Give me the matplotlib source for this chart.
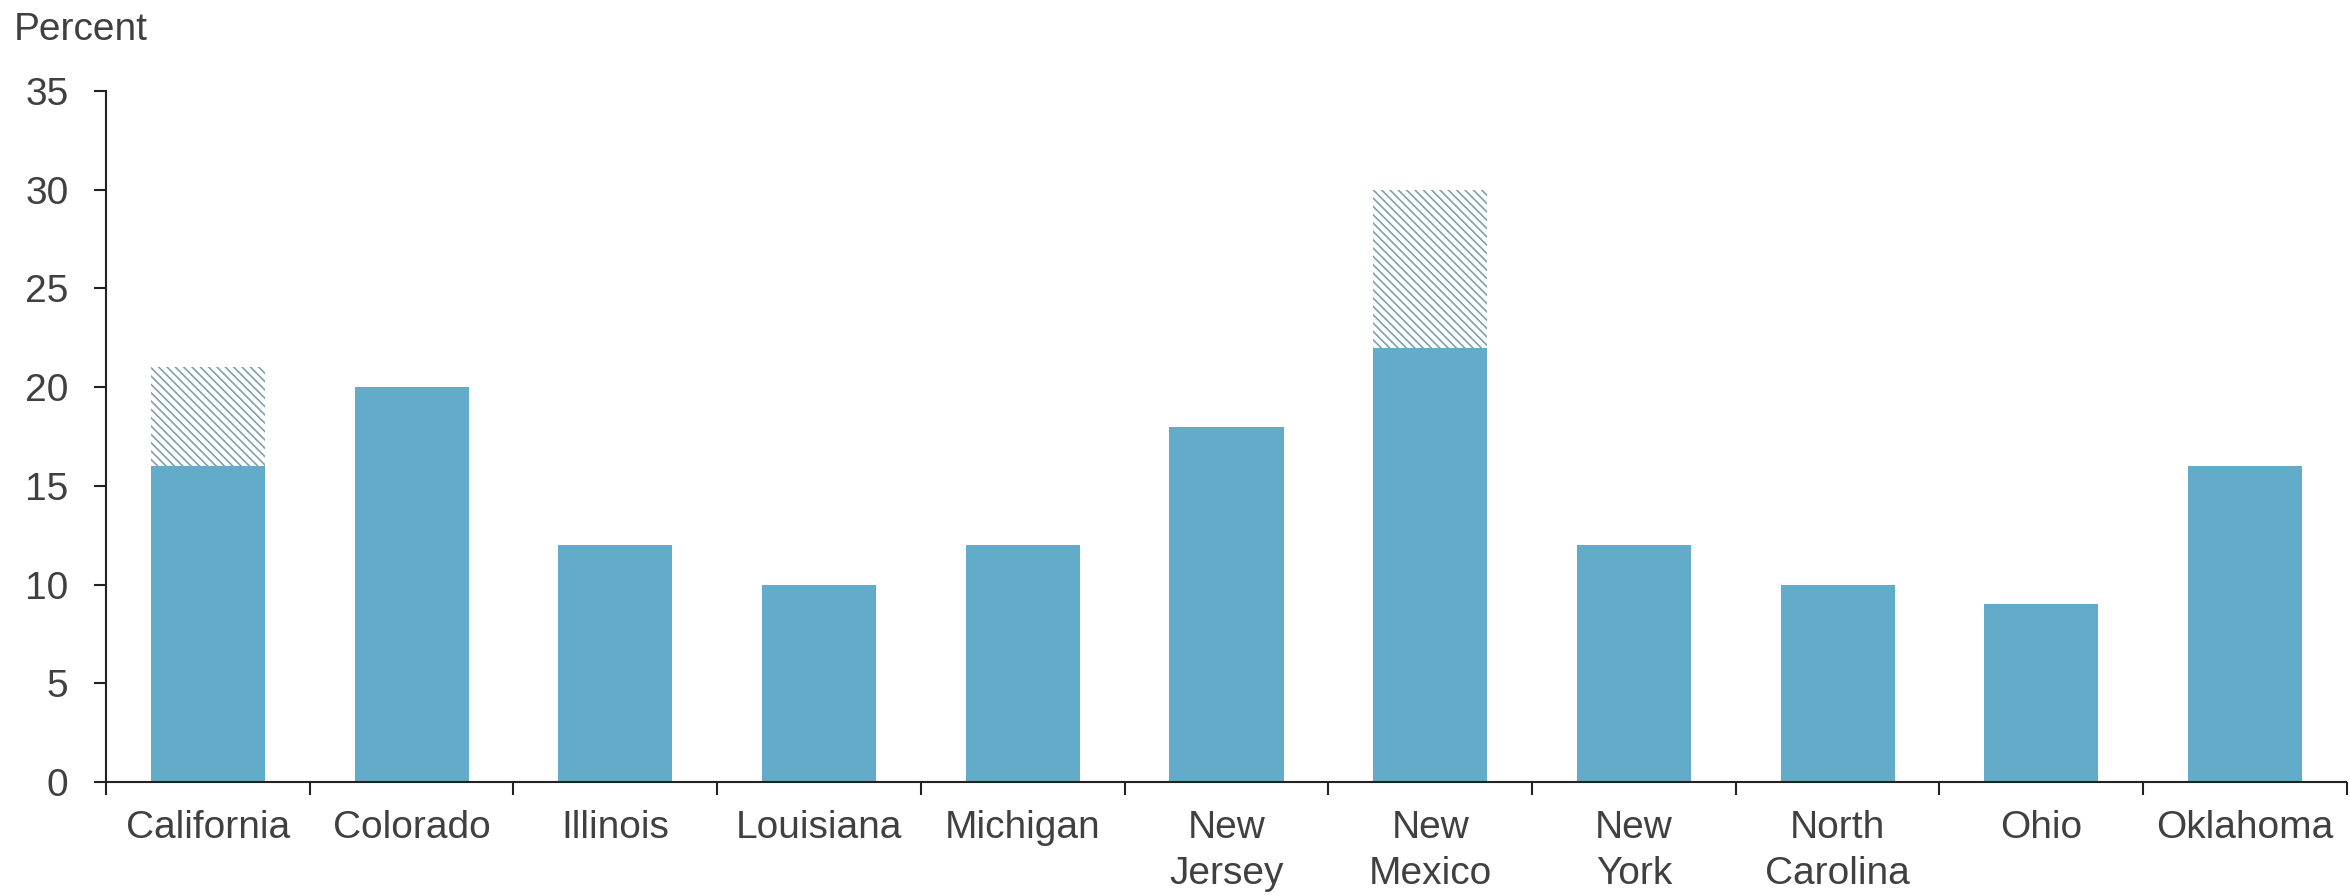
import numpy as np
import matplotlib.pyplot as plt

# share of households, base value plus additional (hatched) range
states = ["California", "Colorado", "Illinois", "Louisiana", "Michigan",
          "New\nJersey", "New\nMexico", "New\nYork", "North\nCarolina",
          "Ohio", "Oklahoma"]
base = [16, 20, 12, 10, 12, 18, 22, 12, 10, 9, 16]
extra = [5, 0, 0, 0, 0, 0, 8, 0, 0, 0, 0]

bar_color = "#62abc9"
hatch_color = "#7f9fae"
text_color = "#404040"

plt.rcParams["font.family"] = ["Liberation Sans", "DejaVu Sans"]
plt.rcParams["hatch.linewidth"] = 1.2

fig = plt.figure(figsize=(23.5, 8.96), dpi=100)
ax = fig.add_axes([0.0451, 0.1273, 0.9536, 0.7712])

x = np.arange(len(states))
ax.bar(x, base, width=0.56, color=bar_color, linewidth=0)
ax.bar(x, extra, width=0.56, bottom=base, color="white",
       edgecolor=hatch_color, hatch="\\" * 4, linewidth=0)

ax.set_xlim(-0.5, len(states) - 0.5)
ax.set_ylim(0, 35)
ax.set_yticks(range(0, 36, 5))
ax.set_xticks(x)
ax.set_xticklabels(states, linespacing=1.35)
ax.set_xticks(np.arange(-0.5, len(states), 1.0), minor=True)

for side in ["top", "right"]:
    ax.spines[side].set_visible(False)
for side in ["left", "bottom"]:
    ax.spines[side].set_linewidth(1.5)
    ax.spines[side].set_color("#222222")
ax.spines["bottom"].set_capstyle("butt")

ax.tick_params(axis="y", length=9, width=1.5, color="#222222",
               labelsize=28, labelcolor=text_color, pad=18)
ax.tick_params(axis="x", which="major", length=0, labelsize=28,
               labelcolor=text_color, pad=20)
ax.tick_params(axis="x", which="minor", length=9, width=1.5, color="#222222")

fig.text(0.006, 0.955, "Percent", fontsize=28, color=text_color, va="baseline")

fig.savefig("out.png", dpi=100)
